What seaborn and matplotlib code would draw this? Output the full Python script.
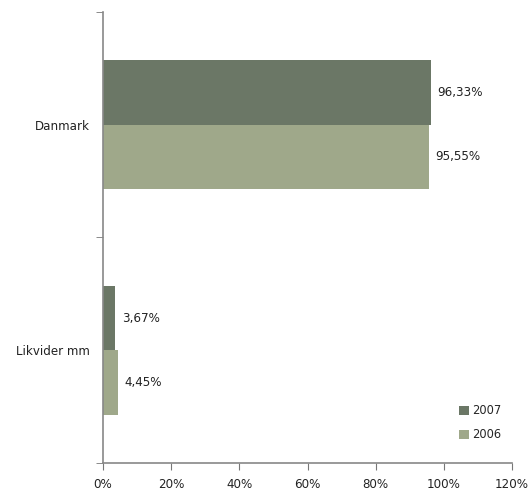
import matplotlib
matplotlib.use("Agg")
import matplotlib.pyplot as plt
import seaborn as sns
import pandas as pd
from matplotlib.ticker import FixedLocator, FuncFormatter

categories = ["Danmark", "Likvider mm"]
years = ["2007", "2006"]
values_2007 = [96.33, 3.67]
values_2006 = [95.55, 4.45]
colors = {"2007": "#6b7766", "2006": "#9fa88a"}
xticks = [0, 20, 40, 60, 80, 100, 120]

df = pd.DataFrame({
    "category": categories * 2,
    "year": ["2007"] * 2 + ["2006"] * 2,
    "value": values_2007 + values_2006,
})

sns.set_style("white")
plt.rcParams["font.family"] = ["DejaVu Sans"]

fig = plt.figure(figsize=(5.28, 4.91), dpi=100)
ax = fig.add_axes([0.195, 0.057, 0.775, 0.919])

sns.barplot(data=df, x="value", y="category", hue="year", hue_order=years,
            order=categories, palette=colors, width=0.57, dodge=True,
            saturation=1, ax=ax, orient="h", errorbar=None, linewidth=0)

for cont in ax.containers:
    ax.bar_label(cont, labels=[f"{v:.2f}".replace(".", ",") + "%" for v in cont.datavalues],
                 padding=4.5, fontsize=8.6, color="#222222")

ax.set_xlim(0, 120)
ax.set_ylim(1.5, -0.5)
ax.xaxis.set_major_locator(FixedLocator(xticks))
ax.xaxis.set_major_formatter(FuncFormatter(lambda v, p: f"{int(v)}%"))
ax.set_yticks([0, 1])
ax.set_yticklabels(categories)
ax.tick_params(axis="y", length=0, pad=9.5, labelsize=8.6, labelcolor="#222222")
ax.yaxis.set_minor_locator(FixedLocator([-0.5, 0.5, 1.5]))
ax.tick_params(axis="y", which="minor", length=5, color="#777777", left=True, direction="out")
ax.tick_params(axis="x", length=5, color="#777777", bottom=True, direction="out",
               labelsize=8.6, labelcolor="#222222", pad=6)
ax.set_xlabel("")
ax.set_ylabel("")
for s in ["top", "right"]:
    ax.spines[s].set_visible(False)
for s in ["left", "bottom"]:
    ax.spines[s].set_color("#888888")
    ax.spines[s].set_linewidth(1.2)

ax.legend(loc="lower right", bbox_to_anchor=(1.0, 0.025), frameon=False, fontsize=8.3,
          handlelength=0.9, handleheight=0.9, handletextpad=0.3, labelspacing=0.95)

fig.savefig("out.png", dpi=100)
